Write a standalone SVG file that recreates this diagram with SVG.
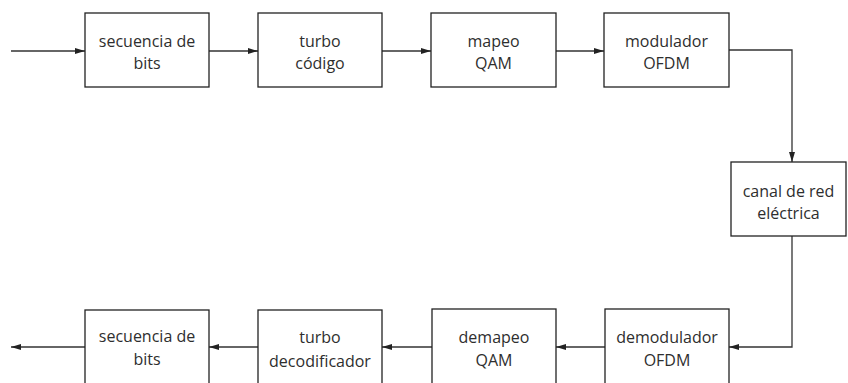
<svg xmlns="http://www.w3.org/2000/svg" width="848" height="383" viewBox="0 0 848 383">
<defs>
<marker id="ah" viewBox="0 0 10 6" refX="10" refY="3" markerWidth="10" markerHeight="6" markerUnits="userSpaceOnUse" orient="auto">
<path d="M0,0 L10,3 L0,6 Z" fill="#222"/>
</marker>
</defs>
<style>
.box{fill:#fff;stroke:#222;stroke-width:1.3}
.t{font-family:"Open Sans","Liberation Sans",sans-serif;font-size:16px;fill:#2e2e2e;text-anchor:middle}
.c{fill:none;stroke:#333;stroke-width:1.3;marker-end:url(#ah)}
</style>
<rect width="848" height="383" fill="#fff"/>
<g id="connectors">
<path class="c" d="M11,51 H85"/>
<path class="c" d="M209,51 H258"/>
<path class="c" d="M382,51 H431"/>
<path class="c" d="M556,51 H604"/>
<path class="c" d="M729,50 H792 V162"/>
<path class="c" d="M792,236 V347 H729"/>
<path class="c" d="M605,347 H556"/>
<path class="c" d="M432,347 H382"/>
<path class="c" d="M258,347 H209"/>
<path class="c" d="M85,347 H11"/>
</g>
<g id="n1"><rect class="box" x="85" y="13" width="124" height="74"/><text class="t" x="147" y="47">secuencia de</text><text class="t" x="147" y="69">bits</text></g>
<g id="n2"><rect class="box" x="258" y="13" width="124" height="74"/><text class="t" x="320" y="47">turbo</text><text class="t" x="320" y="69">código</text></g>
<g id="n3"><rect class="box" x="431" y="13" width="125" height="74"/><text class="t" x="493.5" y="47">mapeo</text><text class="t" x="493.5" y="69">QAM</text></g>
<g id="n4"><rect class="box" x="604" y="13" width="125" height="74"/><text class="t" x="666.5" y="47">modulador</text><text class="t" x="666.5" y="69">OFDM</text></g>
<g id="n5"><rect class="box" x="731" y="162" width="115" height="74"/><text class="t" x="788.5" y="197">canal de red</text><text class="t" x="788.5" y="219">eléctrica</text></g>
<g id="n6"><rect class="box" x="605" y="309" width="124" height="80"/><text class="t" x="667" y="343">demodulador</text><text class="t" x="667" y="366">OFDM</text></g>
<g id="n7"><rect class="box" x="432" y="309" width="124" height="80"/><text class="t" x="494" y="343">demapeo</text><text class="t" x="494" y="366">QAM</text></g>
<g id="n8"><rect class="box" x="258" y="310" width="124" height="80"/><text class="t" x="320" y="343">turbo</text><text class="t" x="320" y="367">decodificador</text></g>
<g id="n9"><rect class="box" x="85" y="310" width="124" height="80"/><text class="t" x="147" y="342">secuencia de</text><text class="t" x="147" y="365">bits</text></g>
</svg>
